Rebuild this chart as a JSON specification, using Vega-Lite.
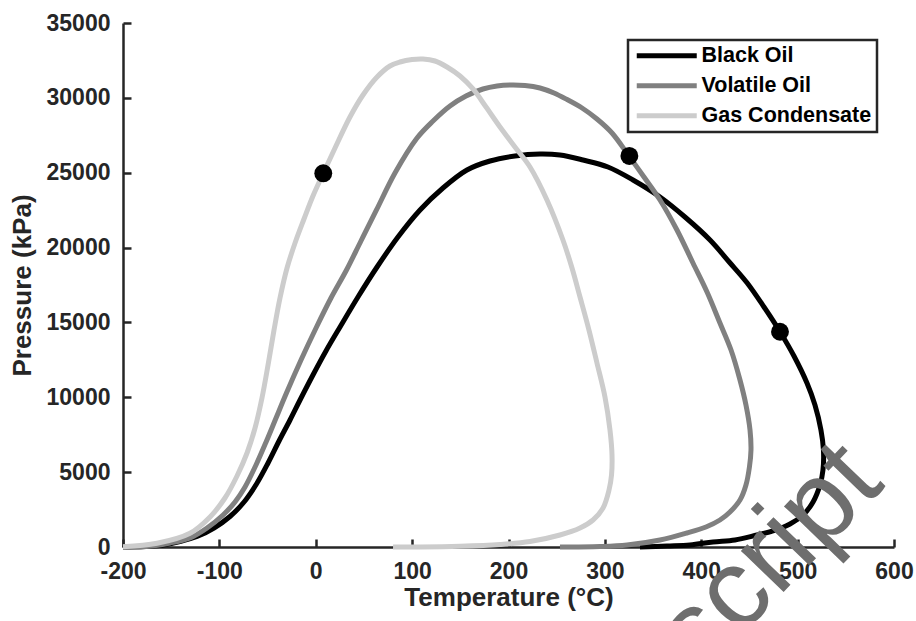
{
  "$schema": "https://vega.github.io/schema/vega-lite/v6.json",
  "width": 771,
  "height": 524,
  "autosize": {"type": "none"},
  "padding": {"left": 123, "top": 23, "right": 22, "bottom": 74},
  "background": "white",
  "config": {
    "view": {"stroke": null},
    "font": "Liberation Sans",
    "axis": {
      "grid": false,
      "domainColor": "#262626",
      "domainWidth": 2.5,
      "tickColor": "#262626",
      "tickWidth": 2.5,
      "tickSize": -8,
      "labelFont": "Liberation Sans",
      "labelFontSize": 23,
      "labelFontWeight": "bold",
      "labelColor": "#262626",
      "labelFlush": false,
      "labelOverlap": false,
      "titleFont": "Liberation Sans",
      "titleFontSize": 26,
      "titleFontWeight": "bold",
      "titleColor": "#262626"
    },
    "legend": {
      "orient": "top-right",
      "offset": 17,
      "padding": 5,
      "strokeColor": "#262626",
      "strokeWidth": 2.5,
      "fillColor": "white",
      "symbolType": "M-6,0H6",
      "symbolSize": 100,
      "symbolStrokeWidth": 5,
      "symbolOffset": 23,
      "labelOffset": 24,
      "labelFont": "Liberation Sans",
      "labelFontSize": 21.5,
      "labelFontWeight": "bold",
      "labelColor": "#000000",
      "labelLimit": 400,
      "rowPadding": 7
    }
  },
  "datasets": {
    "curves": [
      {"s":"Black Oil","i":1,"T":-200,"P":0},{"s":"Black Oil","i":2,"T":-177.2,"P":33},{"s":"Black Oil","i":3,"T":-158.5,"P":134},{"s":"Black Oil","i":4,"T":-140.9,"P":367},{"s":"Black Oil","i":5,"T":-123.2,"P":701},{"s":"Black Oil","i":6,"T":-105.6,"P":1269},{"s":"Black Oil","i":7,"T":-89,"P":2037},{"s":"Black Oil","i":8,"T":-74.4,"P":3006},{"s":"Black Oil","i":9,"T":-61.5,"P":4208},{"s":"Black Oil","i":10,"T":-49.5,"P":5611},{"s":"Black Oil","i":11,"T":-38.1,"P":7080},{"s":"Black Oil","i":12,"T":-26.7,"P":8483},{"s":"Black Oil","i":13,"T":-16.3,"P":9819},{"s":"Black Oil","i":14,"T":-2.9,"P":11489},{"s":"Black Oil","i":15,"T":10.6,"P":13092},{"s":"Black Oil","i":16,"T":25.2,"P":14695},{"s":"Black Oil","i":17,"T":43.8,"P":16699},{"s":"Black Oil","i":18,"T":63.6,"P":18702},{"s":"Black Oil","i":19,"T":85.3,"P":20706},{"s":"Black Oil","i":20,"T":108.2,"P":22510},{"s":"Black Oil","i":21,"T":132,"P":23979},{"s":"Black Oil","i":22,"T":156.9,"P":25181},{"s":"Black Oil","i":23,"T":180.8,"P":25782},{"s":"Black Oil","i":24,"T":206.7,"P":26116},{"s":"Black Oil","i":25,"T":232.7,"P":26250},{"s":"Black Oil","i":26,"T":253.4,"P":26183},{"s":"Black Oil","i":27,"T":277.3,"P":25849},{"s":"Black Oil","i":28,"T":303.2,"P":25382},{"s":"Black Oil","i":29,"T":329.2,"P":24513},{"s":"Black Oil","i":30,"T":357.2,"P":23378},{"s":"Black Oil","i":31,"T":383.1,"P":22042},{"s":"Black Oil","i":32,"T":409.1,"P":20506},{"s":"Black Oil","i":33,"T":428.8,"P":19053},{"s":"Black Oil","i":34,"T":447.5,"P":17650},{"s":"Black Oil","i":35,"T":465.1,"P":16031},{"s":"Black Oil","i":36,"T":481.7,"P":14381},{"s":"Black Oil","i":37,"T":496.2,"P":12758},{"s":"Black Oil","i":38,"T":509.7,"P":10954},{"s":"Black Oil","i":39,"T":518,"P":9485},{"s":"Black Oil","i":40,"T":524.2,"P":7815},{"s":"Black Oil","i":41,"T":526.8,"P":6479},{"s":"Black Oil","i":42,"T":526.3,"P":5143},{"s":"Black Oil","i":43,"T":523.2,"P":4141},{"s":"Black Oil","i":44,"T":516,"P":3006},{"s":"Black Oil","i":45,"T":505.6,"P":2137},{"s":"Black Oil","i":46,"T":492.1,"P":1536},{"s":"Black Oil","i":47,"T":474.4,"P":1069},{"s":"Black Oil","i":48,"T":457.8,"P":802},{"s":"Black Oil","i":49,"T":435,"P":468},{"s":"Black Oil","i":50,"T":412.2,"P":334},{"s":"Black Oil","i":51,"T":388.3,"P":134},{"s":"Black Oil","i":52,"T":364.5,"P":67},{"s":"Black Oil","i":53,"T":336.4,"P":0},
      {"s":"Volatile Oil","i":1,"T":-200,"P":0},{"s":"Volatile Oil","i":2,"T":-175.4,"P":33},{"s":"Volatile Oil","i":3,"T":-151.2,"P":267},{"s":"Volatile Oil","i":4,"T":-130.5,"P":601},{"s":"Volatile Oil","i":5,"T":-112.8,"P":1269},{"s":"Volatile Oil","i":6,"T":-96.2,"P":2137},{"s":"Volatile Oil","i":7,"T":-83.8,"P":3006},{"s":"Volatile Oil","i":8,"T":-73.4,"P":4008},{"s":"Volatile Oil","i":9,"T":-62,"P":5477},{"s":"Volatile Oil","i":10,"T":-51.1,"P":7080},{"s":"Volatile Oil","i":11,"T":-41.2,"P":8616},{"s":"Volatile Oil","i":12,"T":-30.4,"P":10286},{"s":"Volatile Oil","i":13,"T":-15.3,"P":12490},{"s":"Volatile Oil","i":14,"T":0.8,"P":14695},{"s":"Volatile Oil","i":15,"T":15.8,"P":16632},{"s":"Volatile Oil","i":16,"T":31.9,"P":18502},{"s":"Volatile Oil","i":17,"T":46.9,"P":20439},{"s":"Volatile Oil","i":18,"T":63,"P":22510},{"s":"Volatile Oil","i":19,"T":82.2,"P":24981},{"s":"Volatile Oil","i":20,"T":105.1,"P":27319},{"s":"Volatile Oil","i":21,"T":121.7,"P":28454},{"s":"Volatile Oil","i":22,"T":139.3,"P":29456},{"s":"Volatile Oil","i":23,"T":155.9,"P":30124},{"s":"Volatile Oil","i":24,"T":173.5,"P":30592},{"s":"Volatile Oil","i":25,"T":188.1,"P":30792},{"s":"Volatile Oil","i":26,"T":201.6,"P":30859},{"s":"Volatile Oil","i":27,"T":217.1,"P":30825},{"s":"Volatile Oil","i":28,"T":232.7,"P":30658},{"s":"Volatile Oil","i":29,"T":247.2,"P":30324},{"s":"Volatile Oil","i":30,"T":260.7,"P":29890},{"s":"Volatile Oil","i":31,"T":276.3,"P":29323},{"s":"Volatile Oil","i":32,"T":291.8,"P":28588},{"s":"Volatile Oil","i":33,"T":307.4,"P":27653},{"s":"Volatile Oil","i":34,"T":325,"P":26116},{"s":"Volatile Oil","i":35,"T":340.6,"P":24714},{"s":"Volatile Oil","i":36,"T":357.2,"P":23178},{"s":"Volatile Oil","i":37,"T":374.8,"P":21174},{"s":"Volatile Oil","i":38,"T":391.4,"P":18970},{"s":"Volatile Oil","i":39,"T":406,"P":17032},{"s":"Volatile Oil","i":40,"T":419.4,"P":14962},{"s":"Volatile Oil","i":41,"T":430.9,"P":13158},{"s":"Volatile Oil","i":42,"T":440.2,"P":11155},{"s":"Volatile Oil","i":43,"T":446.4,"P":9485},{"s":"Volatile Oil","i":44,"T":450.6,"P":7815},{"s":"Volatile Oil","i":45,"T":451.6,"P":6479},{"s":"Volatile Oil","i":46,"T":450,"P":5344},{"s":"Volatile Oil","i":47,"T":446.4,"P":4141},{"s":"Volatile Oil","i":48,"T":440.2,"P":3139},{"s":"Volatile Oil","i":49,"T":429.8,"P":2338},{"s":"Volatile Oil","i":50,"T":419.4,"P":1803},{"s":"Volatile Oil","i":51,"T":404.9,"P":1336},{"s":"Volatile Oil","i":52,"T":385.2,"P":935},{"s":"Volatile Oil","i":53,"T":357.2,"P":468},{"s":"Volatile Oil","i":54,"T":323,"P":134},{"s":"Volatile Oil","i":55,"T":294.9,"P":33},{"s":"Volatile Oil","i":56,"T":253.4,"P":0},
      {"s":"Gas Condensate","i":1,"T":-200,"P":20},{"s":"Gas Condensate","i":2,"T":-164.7,"P":247},{"s":"Gas Condensate","i":3,"T":-130.5,"P":915},{"s":"Gas Condensate","i":4,"T":-109.7,"P":2004},{"s":"Gas Condensate","i":5,"T":-94.2,"P":3273},{"s":"Gas Condensate","i":6,"T":-81.7,"P":4742},{"s":"Gas Condensate","i":7,"T":-71.3,"P":6279},{"s":"Gas Condensate","i":8,"T":-63,"P":7948},{"s":"Gas Condensate","i":9,"T":-55.8,"P":9952},{"s":"Gas Condensate","i":10,"T":-49.5,"P":12157},{"s":"Gas Condensate","i":11,"T":-43.3,"P":14494},{"s":"Gas Condensate","i":12,"T":-37.1,"P":16632},{"s":"Gas Condensate","i":13,"T":-29.8,"P":18636},{"s":"Gas Condensate","i":14,"T":-21.5,"P":20305},{"s":"Gas Condensate","i":15,"T":-12.2,"P":21908},{"s":"Gas Condensate","i":16,"T":-2.9,"P":23445},{"s":"Gas Condensate","i":17,"T":7.8,"P":24960},{"s":"Gas Condensate","i":18,"T":20,"P":26651},{"s":"Gas Condensate","i":19,"T":35.5,"P":28721},{"s":"Gas Condensate","i":20,"T":49,"P":30191},{"s":"Gas Condensate","i":21,"T":63.6,"P":31393},{"s":"Gas Condensate","i":22,"T":77,"P":32128},{"s":"Gas Condensate","i":23,"T":87.4,"P":32395},{"s":"Gas Condensate","i":24,"T":99.9,"P":32562},{"s":"Gas Condensate","i":25,"T":111.3,"P":32595},{"s":"Gas Condensate","i":26,"T":123.7,"P":32462},{"s":"Gas Condensate","i":27,"T":136.2,"P":32061},{"s":"Gas Condensate","i":28,"T":149.7,"P":31460},{"s":"Gas Condensate","i":29,"T":163.2,"P":30592},{"s":"Gas Condensate","i":30,"T":176.7,"P":29389},{"s":"Gas Condensate","i":31,"T":191.2,"P":28053},{"s":"Gas Condensate","i":32,"T":206.7,"P":26718},{"s":"Gas Condensate","i":33,"T":222.3,"P":25382},{"s":"Gas Condensate","i":34,"T":239.9,"P":23178},{"s":"Gas Condensate","i":35,"T":256.5,"P":20506},{"s":"Gas Condensate","i":36,"T":265.9,"P":18636},{"s":"Gas Condensate","i":37,"T":274.2,"P":16699},{"s":"Gas Condensate","i":38,"T":283.5,"P":14494},{"s":"Gas Condensate","i":39,"T":291.8,"P":12290},{"s":"Gas Condensate","i":40,"T":300.1,"P":10019},{"s":"Gas Condensate","i":41,"T":305.3,"P":7815},{"s":"Gas Condensate","i":42,"T":307.4,"P":6145},{"s":"Gas Condensate","i":43,"T":306.9,"P":4809},{"s":"Gas Condensate","i":44,"T":304.3,"P":3807},{"s":"Gas Condensate","i":45,"T":298.1,"P":2605},{"s":"Gas Condensate","i":46,"T":287.7,"P":1803},{"s":"Gas Condensate","i":47,"T":274.2,"P":1269},{"s":"Gas Condensate","i":48,"T":253.4,"P":802},{"s":"Gas Condensate","i":49,"T":222.3,"P":367},{"s":"Gas Condensate","i":50,"T":191.2,"P":167},{"s":"Gas Condensate","i":51,"T":149.7,"P":47},{"s":"Gas Condensate","i":52,"T":108.2,"P":0},{"s":"Gas Condensate","i":53,"T":80.2,"P":0}
    ],
    "dots": [
      {"T":7.8,"P":24960},{"T":325.4,"P":26120},{"T":481.7,"P":14380}
    ],
    "wm": [
      {"label":"Manuscript","T":592,"P":4100}
    ]
  },
  "encoding": {
    "x": {
      "field": "T", "type": "quantitative",
      "scale": {"domain": [-200, 600], "nice": false, "zero": false},
      "axis": {
        "title": "Temperature (°C)",
        "values": [-200, -100, 0, 100, 200, 300, 400, 500, 600],
        "labelExpr": "datum.value + ''",
        "labelPadding": 21,
        "titlePadding": 1
      }
    },
    "y": {
      "field": "P", "type": "quantitative",
      "scale": {"domain": [0, 35000], "nice": false},
      "axis": {
        "title": "Pressure (kPa)",
        "values": [0, 5000, 10000, 15000, 20000, 25000, 30000, 35000],
        "labelExpr": "datum.value + ''",
        "labelPadding": 21,
        "titlePadding": 11
      }
    }
  },
  "layer": [
    {
      "data": {"name": "curves"},
      "transform": [{"filter": "datum.s === 'Black Oil'"}],
      "mark": {"type": "line", "strokeWidth": 5, "interpolate": "catmull-rom"},
      "encoding": {
        "color": {"field": "s", "type": "nominal", "title": null,
          "scale": {"domain": ["Black Oil", "Volatile Oil", "Gas Condensate"], "range": ["#000000", "#808080", "#cccccc"]}},
        "order": {"field": "i", "type": "quantitative"}
      }
    },
    {
      "data": {"name": "curves"},
      "transform": [{"filter": "datum.s === 'Volatile Oil'"}],
      "mark": {"type": "line", "strokeWidth": 5, "interpolate": "catmull-rom"},
      "encoding": {
        "color": {"field": "s", "type": "nominal", "title": null,
          "scale": {"domain": ["Black Oil", "Volatile Oil", "Gas Condensate"], "range": ["#000000", "#808080", "#cccccc"]}},
        "order": {"field": "i", "type": "quantitative"}
      }
    },
    {
      "data": {"name": "curves"},
      "transform": [{"filter": "datum.s === 'Gas Condensate'"}],
      "mark": {"type": "line", "strokeWidth": 5, "interpolate": "catmull-rom"},
      "encoding": {
        "color": {"field": "s", "type": "nominal", "title": null,
          "scale": {"domain": ["Black Oil", "Volatile Oil", "Gas Condensate"], "range": ["#000000", "#808080", "#cccccc"]}},
        "order": {"field": "i", "type": "quantitative"}
      }
    },
    {
      "data": {"name": "dots"},
      "mark": {"type": "point", "filled": true, "color": "#000000", "opacity": 1, "size": 320}
    },
    {
      "data": {"name": "wm"},
      "mark": {"type": "text", "angle": -46, "align": "right", "baseline": "alphabetic", "fontSize": 112, "font": "Liberation Sans", "color": "#6e6e6e", "clip": false},
      "encoding": {"text": {"field": "label"}}
    }
  ]
}
